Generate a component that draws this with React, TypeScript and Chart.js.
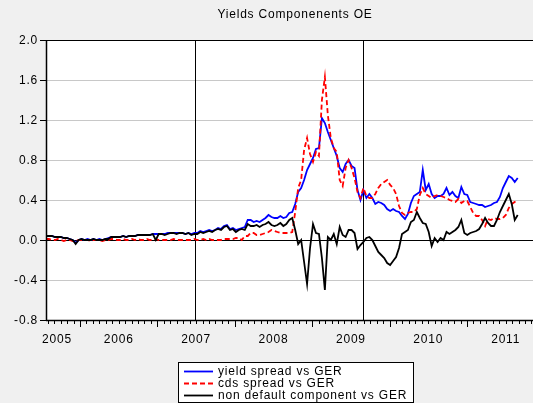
import React, { useEffect, useRef } from "react";
import { Chart, registerables } from "chart.js";
Chart.register(...registerables);

const TITLE = "Yields Componenents OE";
const SERIES_NAMES = ["yield spread vs GER", "cds spread vs GER", "non default component vs GER"];
const FIRST_OBS = 2005.561; // decimal year of first observation
const STEP_DAYS = 14; // observation interval
const X_MIN = 2005.561;
const X_MAX = 2011.853;
const Y_MIN = -0.8;
const Y_MAX = 2.0;
const yTicks = [-0.8, -0.4, 0, 0.4, 0.8, 1.2, 1.6, 2.0];
const yearLabels = ["2005", "2006", "2007", "2008", "2009", "2010", "2011"];
const eventYears = [2007.486, 2009.656];

const yieldSpread = [
  0.04, 0.04, 0.04, 0.03, 0.03, 0.03, 0.02, 0.02, 0.01, 0.0,
  -0.03, 0.0, 0.01, 0.0, 0.01, 0.0, 0.01, 0.0, 0.01, 0.0,
  0.01, 0.02, 0.03, 0.03, 0.03, 0.03, 0.04, 0.03, 0.04, 0.04,
  0.04, 0.05, 0.05, 0.05, 0.05, 0.05, 0.06, 0.06, 0.06, 0.06,
  0.06, 0.07, 0.07, 0.07, 0.07, 0.07, 0.07, 0.06, 0.07, 0.06,
  0.07, 0.07, 0.09, 0.08, 0.09, 0.1, 0.09, 0.1, 0.12, 0.11,
  0.14, 0.15, 0.11, 0.12, 0.1, 0.11, 0.12, 0.13, 0.2, 0.2,
  0.18, 0.19, 0.18, 0.2, 0.22, 0.25, 0.23, 0.22, 0.22, 0.24,
  0.22, 0.23, 0.27, 0.28, 0.36, 0.48, 0.52, 0.6, 0.7, 0.76,
  0.82, 0.91, 0.92, 1.22, 1.17, 1.08, 1.0, 0.92, 0.84, 0.72,
  0.68, 0.76, 0.8, 0.74, 0.72, 0.5, 0.4, 0.5, 0.42, 0.46,
  0.42, 0.36, 0.38, 0.37, 0.35, 0.31, 0.29, 0.31, 0.29, 0.28,
  0.24, 0.21, 0.26, 0.37, 0.44, 0.46, 0.48, 0.7, 0.5, 0.56,
  0.46, 0.42, 0.44, 0.44, 0.46, 0.52, 0.45, 0.48, 0.44, 0.42,
  0.53, 0.46, 0.45, 0.38, 0.37, 0.36, 0.35, 0.35, 0.33, 0.34,
  0.35, 0.37, 0.38, 0.43, 0.52, 0.58, 0.64, 0.62, 0.58, 0.62,
];

const cdsSpread = [
  0.01, 0.01, 0.0, 0.0, 0.01, 0.0, -0.01, 0.0, 0.0, -0.01,
  -0.01, 0.0, 0.0, 0.0, 0.0, -0.01, 0.0, 0.0, 0.0, -0.01,
  0.0, 0.0, 0.01, 0.01, 0.0, 0.0, 0.01, 0.0, 0.0, 0.01,
  0.0, 0.01, 0.0, 0.0, 0.01, 0.0, 0.0, 0.01, 0.0, 0.0,
  0.0, 0.0, 0.0, 0.01, 0.0, 0.0, 0.0, 0.0, 0.0, 0.0,
  0.01, 0.0, 0.0, 0.01, 0.0, 0.01, 0.0, 0.0, 0.0, 0.0,
  0.01, 0.01, 0.01, 0.01, 0.02, 0.02, 0.0, 0.04, 0.04, 0.07,
  0.07, 0.05, 0.05, 0.06, 0.07, 0.08, 0.1, 0.09, 0.08, 0.07,
  0.07, 0.07, 0.07, 0.08, 0.28, 0.52, 0.6, 0.9, 1.02, 0.86,
  0.78, 0.88, 0.84, 1.4, 1.63, 1.25, 1.02, 0.92, 0.88, 0.6,
  0.54, 0.72, 0.8, 0.72, 0.62, 0.48, 0.42, 0.52, 0.44, 0.42,
  0.42, 0.46, 0.52, 0.56, 0.58, 0.6, 0.55, 0.52, 0.46, 0.34,
  0.27, 0.25, 0.27, 0.28, 0.28, 0.31, 0.45, 0.52, 0.46, 0.44,
  0.42, 0.44, 0.45, 0.44, 0.43, 0.42, 0.4, 0.39, 0.38, 0.41,
  0.37, 0.39, 0.39, 0.33, 0.27, 0.24, 0.24, 0.2, 0.14, 0.21,
  0.2, 0.22, 0.21, 0.21, 0.22, 0.25, 0.32, 0.36, 0.38, 0.38,
];

const nonDefault = [
  0.04, 0.04, 0.04, 0.03, 0.03, 0.03, 0.02, 0.02, 0.01, 0.0,
  -0.04, 0.0, 0.01, 0.0, 0.0, 0.0, 0.01, 0.0, 0.0, 0.0,
  0.01, 0.01, 0.03, 0.03, 0.03, 0.03, 0.04, 0.03, 0.04, 0.04,
  0.04, 0.05, 0.05, 0.05, 0.05, 0.05, 0.06, 0.0, 0.06, 0.06,
  0.05, 0.06, 0.07, 0.07, 0.06, 0.07, 0.07, 0.06, 0.07, 0.05,
  0.06, 0.06, 0.08, 0.07, 0.08, 0.09, 0.08, 0.1, 0.11, 0.1,
  0.13, 0.14, 0.1, 0.11, 0.08, 0.1, 0.11, 0.1, 0.16, 0.14,
  0.14, 0.15, 0.13, 0.15, 0.16, 0.18, 0.15, 0.14, 0.15, 0.17,
  0.14, 0.16, 0.2, 0.22, 0.1, -0.04, 0.0, -0.22, -0.44, -0.08,
  0.16, 0.07, 0.06, -0.18, -0.5, 0.03, 0.0, 0.06, -0.04, 0.13,
  0.05, 0.03, 0.1, 0.1, 0.07, -0.09, -0.05, -0.02, 0.02, 0.03,
  0.0, -0.06, -0.12, -0.15, -0.18, -0.23, -0.25, -0.21, -0.17, -0.08,
  0.06, 0.08, 0.1, 0.18, 0.2, 0.28, 0.22, 0.17, 0.16, 0.08,
  -0.06, 0.02, -0.02, 0.02, 0.0, 0.08, 0.06, 0.08, 0.1, 0.13,
  0.2, 0.07, 0.05, 0.07, 0.08, 0.09, 0.11, 0.16, 0.22, 0.17,
  0.14, 0.14, 0.2, 0.28, 0.34, 0.4, 0.46, 0.36, 0.2, 0.25,
];

const COLORS = ["#0000ff", "#ff0000", "#000000"];
const DASHES: number[][] = [[], [5, 3], []];
const FONT = '12px "Liberation Sans", Arial, sans-serif';

function obsX(i: number) {
  return FIRST_OBS + (i * STEP_DAYS) / 365.25;
}

function toPoints(values: number[]) {
  return values.map((v, i) => ({ x: obsX(i), y: v }));
}

const framePlugin = {
  id: "framePlugin",
  beforeDraw(chart: any) {
    const { ctx, chartArea: a, width, height } = chart;
    const ys = chart.scales.y;
    const xs = chart.scales.x;
    ctx.save();
    ctx.fillStyle = "#f0f0f0";
    ctx.fillRect(0, 0, width, height);
    ctx.fillStyle = "#ffffff";
    ctx.fillRect(a.left, a.top, a.right - a.left, a.bottom - a.top);
    // horizontal gridlines
    ctx.lineWidth = 1;
    yTicks.forEach((t) => {
      const y = Math.round(ys.getPixelForValue(t)) + 0.5;
      ctx.strokeStyle = t === 0 ? "#000000" : "#c8c8c8";
      ctx.beginPath();
      ctx.moveTo(a.left, y);
      ctx.lineTo(a.right, y);
      ctx.stroke();
    });
    // event lines
    ctx.strokeStyle = "#000000";
    eventYears.forEach((ev) => {
      const x = Math.round(xs.getPixelForValue(ev)) + 0.5;
      ctx.beginPath();
      ctx.moveTo(x, a.top);
      ctx.lineTo(x, a.bottom);
      ctx.stroke();
    });
    ctx.restore();
  },
  afterDraw(chart: any) {
    const { ctx, chartArea: a } = chart;
    const ys = chart.scales.y;
    const xs = chart.scales.x;
    ctx.save();
    ctx.strokeStyle = "#000000";
    ctx.fillStyle = "#000000";
    ctx.lineWidth = 1;
    // frame
    ctx.beginPath();
    ctx.moveTo(a.right, Math.round(a.top) + 0.5);
    ctx.lineTo(a.left, Math.round(a.top) + 0.5);
    ctx.stroke();
    ctx.lineWidth = 1.5;
    ctx.beginPath();
    ctx.moveTo(a.left + 0.5, a.top);
    ctx.lineTo(a.left + 0.5, a.bottom);
    ctx.moveTo(a.left, a.bottom + 0.5);
    ctx.lineTo(a.right, a.bottom + 0.5);
    ctx.stroke();
    ctx.lineWidth = 1;
    // y ticks + labels
    ctx.font = FONT;
    (ctx as any).letterSpacing = "0.8px";
    ctx.textBaseline = "middle";
    ctx.textAlign = "right";
    yTicks.forEach((t) => {
      const y = Math.round(ys.getPixelForValue(t)) + 0.5;
      ctx.beginPath();
      ctx.moveTo(a.left - 6, y);
      ctx.lineTo(a.left, y);
      ctx.stroke();
      ctx.fillText(t.toFixed(1), a.left - 8, y + 0.5);
    });
    // x ticks (monthly)
    const m0 = Math.ceil(X_MIN * 12);
    const m1 = Math.floor(X_MAX * 12);
    for (let m = m0; m <= m1; m++) {
      const x = Math.round(xs.getPixelForValue(m / 12)) + 0.5;
      const len = m % 12 === 0 ? 7 : 4;
      ctx.beginPath();
      ctx.moveTo(x, a.bottom);
      ctx.lineTo(x, a.bottom + len);
      ctx.stroke();
    }
    // year labels
    ctx.textAlign = "center";
    yearLabels.forEach((lab) => {
      const yr = parseInt(lab, 10);
      let x = xs.getPixelForValue(yr + 0.5);
      x = Math.max(x, a.left + 11);
      ctx.fillText(lab, x, a.bottom + 19.5);
    });
    // title
    ctx.fillText(TITLE, 295, 14.5);
    // legend box
    const bx = 178.5, by = 362.5, bw = 235, bh = 40;
    ctx.fillStyle = "#ffffff";
    ctx.fillRect(bx, by, bw, bh);
    ctx.strokeStyle = "#000000";
    ctx.strokeRect(bx, by, bw, bh);
    ctx.textAlign = "left";
    SERIES_NAMES.forEach((name, k) => {
      const ly = 371.5 + k * 12;
      ctx.strokeStyle = COLORS[k];
      ctx.lineWidth = 1.8;
      ctx.setLineDash(k === 1 ? [5, 3] : []);
      ctx.beginPath();
      ctx.moveTo(184, ly);
      ctx.lineTo(213, ly);
      ctx.stroke();
      ctx.setLineDash([]);
      ctx.fillStyle = "#000000";
      ctx.fillText(name, 218, ly + 0.5);
    });
    ctx.restore();
  },
};

export default function App() {
  const ref = useRef<HTMLCanvasElement | null>(null);
  useEffect(() => {
    if (!ref.current) return;
    const series = [yieldSpread, cdsSpread, nonDefault];
    const chart = new Chart(ref.current, {
      type: "line",
      data: {
        datasets: series.map((vals, k) => ({
          label: SERIES_NAMES[k],
          data: toPoints(vals),
          borderColor: COLORS[k],
          borderWidth: 1.8,
          borderDash: DASHES[k],
          pointRadius: 0,
          tension: 0,
          fill: false,
          order: 2 - k,
        })),
      },
      options: {
        animation: false,
        responsive: false,
        devicePixelRatio: 1,
        layout: { padding: { left: 46, top: 40, right: 0, bottom: 83 } },
        scales: {
          x: { type: "linear", min: X_MIN, max: X_MAX, display: false },
          y: { type: "linear", min: Y_MIN, max: Y_MAX, display: false },
        },
        plugins: {
          legend: { display: false },
          title: { display: false },
          tooltip: { enabled: false },
        },
        events: [],
      },
      plugins: [framePlugin],
    });
    return () => chart.destroy();
  }, []);
  return (
    <div style={{ position: "fixed", left: 0, top: 0, width: 533, height: 403, background: "#f0f0f0" }}>
      <canvas ref={ref} width={533} height={403} style={{ display: "block", width: 533, height: 403 }} />
    </div>
  );
}
